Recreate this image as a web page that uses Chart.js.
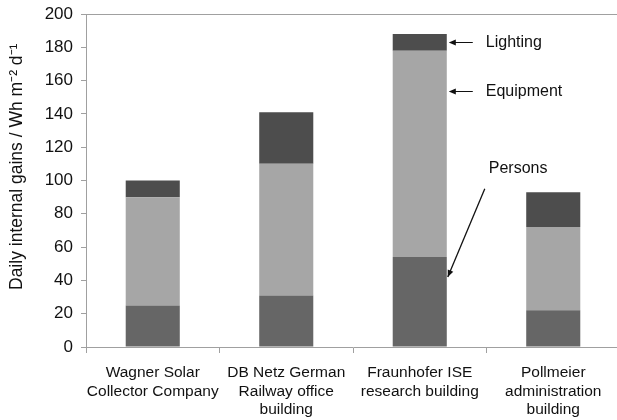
<!DOCTYPE html>
<html>
<head>
<meta charset="utf-8">
<script src="https://cdn.jsdelivr.net/npm/chart.js@4"></script>
<style>
  html, body { margin: 0; padding: 0; background: #fff; overflow: hidden; }
  #wrap { width: 620px; height: 420px; position: relative; }
</style>
</head>
<body>
<div id="wrap"><canvas id="gainsChart"></canvas></div>
<script>
// Building categories (multi-line labels)
const buildings = [
    ['Wagner Solar', 'Collector Company'],
    ['DB Netz German', 'Railway office', 'building'],
    ['Fraunhofer ISE', 'research building'],
    ['Pollmeier', 'administration', 'building']
];

// Daily internal gains, Wh m-2 d-1
const persons   = [25, 31, 54, 22];
const equipment = [65, 79, 124, 50];
const lighting  = [10, 31, 10, 21];

const yTicks = { min: 0, max: 200, step: 20 };
const yTitle = 'Daily internal gains / Wh m\u207B\u00B2 d\u207B\u00B9';

// Callouts on the Fraunhofer bar (value the arrow points at)
const calloutBar = 2;
const callouts = [
    { text: 'Lighting',  value: 183 },
    { text: 'Equipment', value: 154 }
];
const personsCallout = { text: 'Persons', value: 42, labelValue: 107, lineFromValue: 95 };

const FONT = "'Liberation Sans', Arial, sans-serif";

function arrowHead(ctx, x, y, angle) {
    ctx.save();
    ctx.translate(x, y);
    ctx.rotate(angle);
    ctx.beginPath();
    ctx.moveTo(0, 0);
    ctx.lineTo(7, -3);
    ctx.lineTo(7, 3);
    ctx.closePath();
    ctx.fill();
    ctx.restore();
}

// Draw top frame line, y title and the arrow labels
const calloutPlugin = {
    id: 'callouts',
    afterDraw(chart) {
        const ctx = chart.ctx;
        const area = chart.chartArea;
        const yScale = chart.scales.y;

        ctx.save();
        ctx.strokeStyle = '#a0a0a0';
        ctx.lineWidth = 1;
        ctx.beginPath();
        ctx.moveTo(area.left, Math.round(area.top) + 0.5);
        ctx.lineTo(area.right, Math.round(area.top) + 0.5);
        ctx.stroke();

        // y axis title
        ctx.save();
        ctx.translate(17, area.bottom - 57);
        ctx.rotate(-Math.PI / 2);
        ctx.fillStyle = '#111';
        ctx.font = '17.5px ' + FONT;
        ctx.textAlign = 'left';
        ctx.textBaseline = 'middle';
        ctx.fillText(yTitle, 0, 0);
        ctx.restore();

        const bar = chart.getDatasetMeta(0).data[calloutBar];
        const right = bar.x + bar.width / 2;

        ctx.fillStyle = '#111';
        ctx.strokeStyle = '#111';
        ctx.font = '16px ' + FONT;
        ctx.textBaseline = 'middle';

        callouts.forEach(c => {
            const y = Math.round(yScale.getPixelForValue(c.value)) + 0.5;
            ctx.beginPath();
            ctx.moveTo(right + 26, y);
            ctx.lineTo(right + 5, y);
            ctx.stroke();
            arrowHead(ctx, right + 2, y, 0);
            ctx.fillText(c.text, right + 39, y);
        });

        // Persons: slanted arrow
        const tipX = right + 1;
        const tipY = yScale.getPixelForValue(personsCallout.value);
        const fromX = right + 38;
        const fromY = yScale.getPixelForValue(personsCallout.lineFromValue);
        ctx.lineWidth = 1.3;
        ctx.beginPath();
        ctx.moveTo(fromX, fromY);
        ctx.lineTo(tipX, tipY);
        ctx.stroke();
        arrowHead(ctx, tipX, tipY, Math.atan2(fromY - tipY, fromX - tipX));
        ctx.fillText(personsCallout.text, right + 42, yScale.getPixelForValue(personsCallout.labelValue));
        ctx.restore();
    }
};

const ctx = document.getElementById('gainsChart').getContext('2d');

new Chart(ctx, {
    type: 'bar',
    data: {
        labels: buildings,
        datasets: [
            { label: 'Persons',   data: persons,   backgroundColor: '#666666' },
            { label: 'Equipment', data: equipment, backgroundColor: '#a6a6a6' },
            { label: 'Lighting',  data: lighting,  backgroundColor: '#4d4d4d' }
        ]
    },
    options: {
        responsive: true,
        maintainAspectRatio: false,
        animation: false,
        layout: { padding: { top: 14, right: 0, bottom: 0, left: 0 } },
        datasets: {
            bar: { categoryPercentage: 1, barPercentage: 0.405 }
        },
        plugins: {
            legend: { display: false },
            tooltip: { enabled: false }
        },
        scales: {
            x: {
                stacked: true,
                grid: {
                    display: true,
                    drawOnChartArea: false,
                    drawTicks: true,
                    tickLength: 6,
                    offset: true,
                    color: '#a0a0a0'
                },
                border: { color: '#a0a0a0' },
                ticks: {
                    color: '#111',
                    padding: 11,
                    maxRotation: 0,
                    autoSkip: false,
                    font: { family: FONT, size: 15.5, lineHeight: 1.18 }
                },
                afterFit(scale) { scale.height = 73; }
            },
            y: {
                stacked: true,
                min: yTicks.min,
                max: yTicks.max,
                ticks: {
                    stepSize: yTicks.step,
                    color: '#111',
                    padding: 8,
                    font: { family: FONT, size: 17 }
                },
                grid: {
                    display: true,
                    drawOnChartArea: false,
                    drawTicks: true,
                    tickLength: 5,
                    color: '#a0a0a0'
                },
                border: { color: '#a0a0a0' },
                afterFit(scale) {
                    scale.width = 86;
                    scale.paddingTop = 0;
                    scale.paddingBottom = 0;
                }
            }
        }
    },
    plugins: [calloutPlugin]
});
</script>
</body>
</html>
